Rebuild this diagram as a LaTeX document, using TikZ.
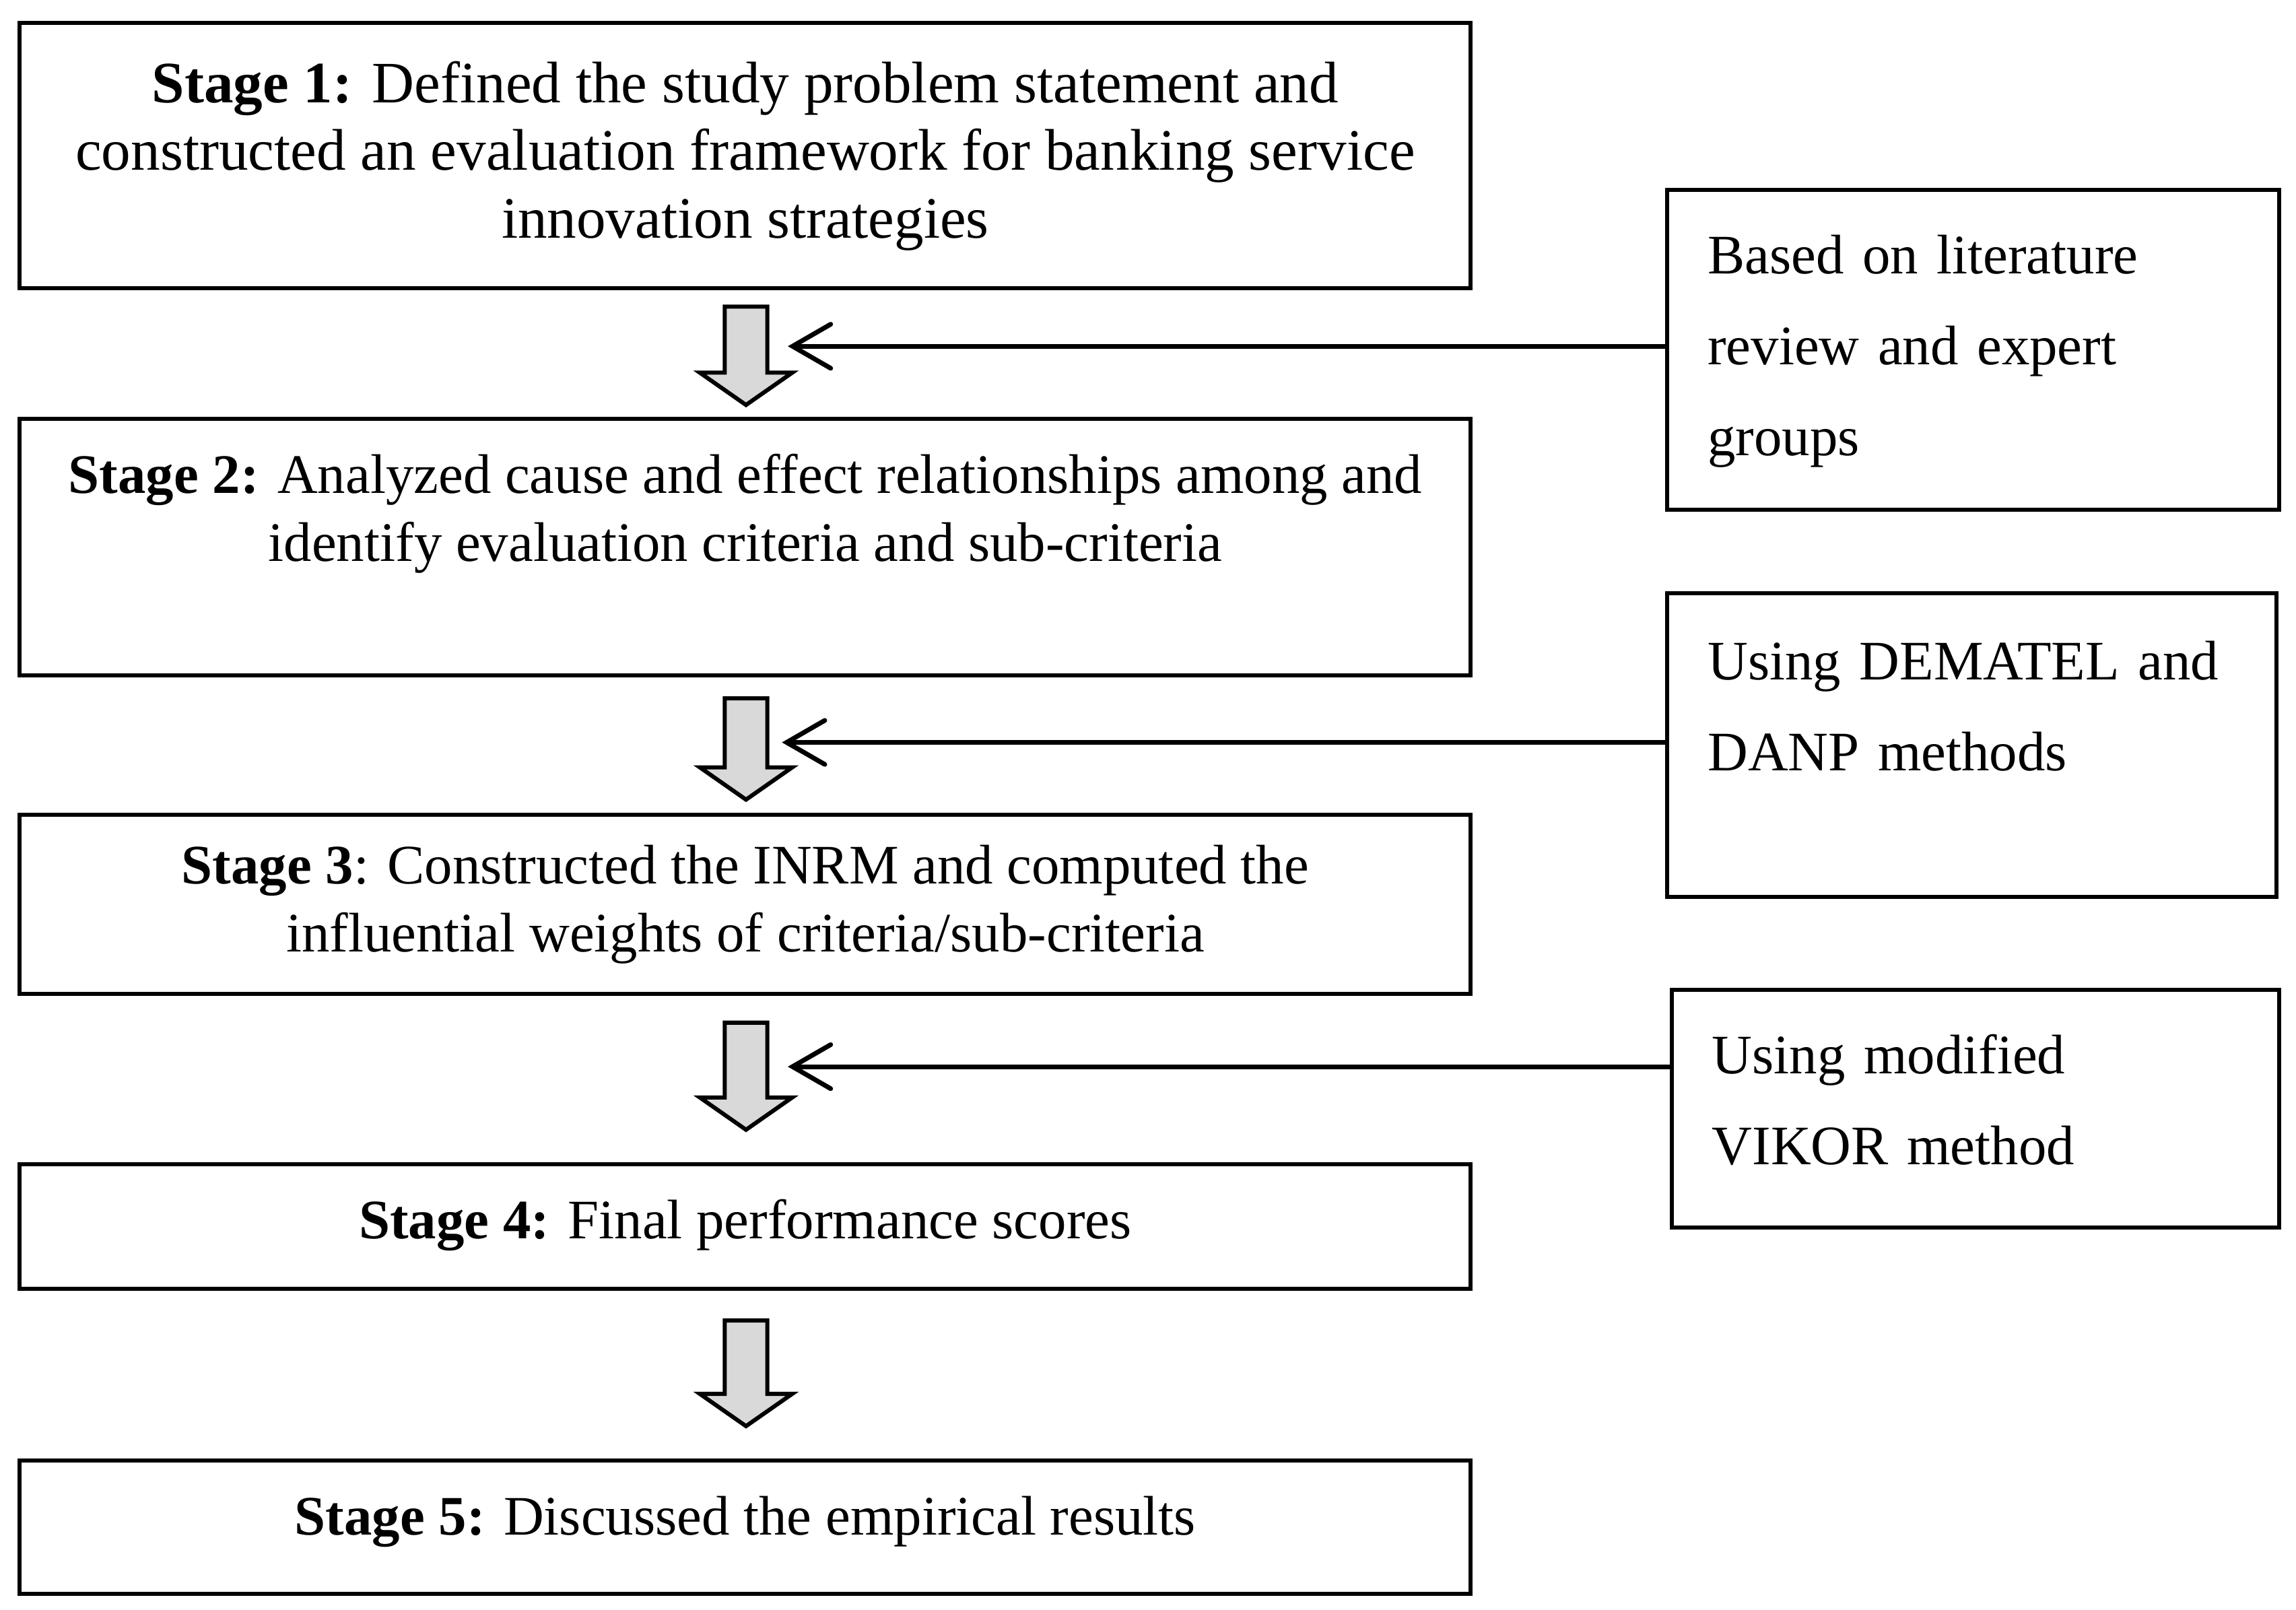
\documentclass[tikz,border=0pt]{standalone}
\usepackage{fontspec}
\setmainfont{Liberation Serif}
\usetikzlibrary{arrows.meta}
\newcommand\bigdown[2]{%
  \draw[blockarrow] (494,#1) -- (523,#1) -- (523,#2-22) -- (540,#2-22) -- (508.5,#2) -- (477,#2-22) -- (494,#2-22) -- cycle;}
\begin{document}
\begin{tikzpicture}[x=1pt,y=-1pt,
  stagebox/.style={draw, line width=2.8pt, minimum width=989pt, inner sep=0pt, align=center,
    font=\fontsize{38}{46}\selectfont},
  notebox/.style={draw, line width=2.8pt, inner xsep=27.6pt, inner ysep=0pt, align=left,
    font=\fontsize{38}{62}\selectfont},
  blockarrow/.style={draw, line width=2.8pt, fill=black!15, line join=miter},
  thinarrow/.style={line width=3.2pt, line cap=round, -{Straight Barb[length=26pt,width=30pt,line cap=round]}}]
\useasboundingbox (0,0) rectangle (1565,1097);
\fill[white] (0,0) rectangle (1565,1097);

\node[stagebox, minimum height=181pt, font=\fontsize{40}{46}\selectfont] (s1) at (508,106)
  {\textbf{Stage 1:} Defined the study problem statement and\\
   constructed an evaluation framework for banking service\\
   innovation strategies\\[-38pt]\mbox{}};
\node[stagebox, minimum height=175pt] (s2) at (508,373)
  {\textbf{Stage 2:} Analyzed cause and effect relationships among and\\
   identify evaluation criteria and sub-criteria\\[8pt]\mbox{}};
\node[stagebox, minimum height=122pt] (s3) at (508,616.5)
  {\textbf{Stage 3}: Constructed the INRM and computed the\\
   influential weights of criteria/sub-criteria};
\node[stagebox, minimum height=85pt] (s4) at (508,836)
  {\textbf{Stage 4:} Final performance scores\\[-36pt]\mbox{}};
\node[stagebox, minimum height=91pt] (s5) at (508,1041)
  {\textbf{Stage 5:} Discussed the empirical results\\[-30pt]\mbox{}};

\node[notebox, text width=362pt, minimum height=218pt] (r1) at (1345,238.5)
  {Based on literature\\ review and expert\\ groups\\[-56pt]\mbox{}};
\node[notebox, text width=360pt, minimum height=207pt] (r2) at (1344,508)
  {Using DEMATEL and\\ DANP methods\\[-8pt]\mbox{}};
\node[notebox, text width=359pt, minimum height=162pt] (r3) at (1346.5,755.5)
  {Using modified\\ VIKOR method\\[-50pt]\mbox{}};

\bigdown{209}{276}
\bigdown{476}{545}
\bigdown{697}{770}
\bigdown{900}{972}

\coordinate (t1) at (537,236);
\coordinate (t2) at (533,506);
\coordinate (t3) at (537,727);
\draw[thinarrow] (r1.west |- t1) -- (t1);
\draw[thinarrow] (r2.west |- t2) -- (t2);
\draw[thinarrow] (r3.west |- t3) -- (t3);
\end{tikzpicture}
\end{document}
